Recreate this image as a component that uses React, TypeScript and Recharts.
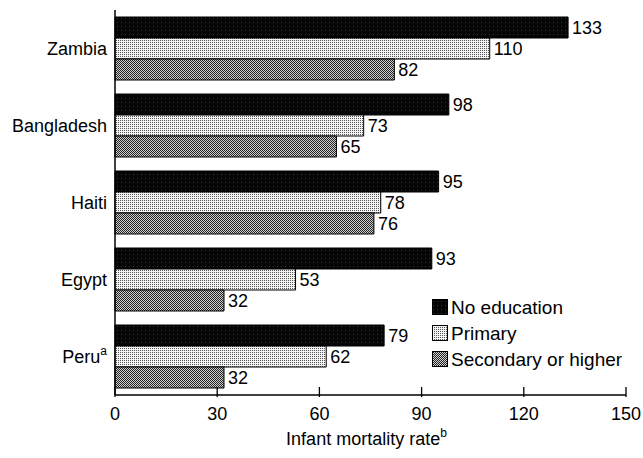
import React from "react";
import { Bar, BarChart, LabelList, XAxis, YAxis } from "recharts";

const countries = ["Zambia", "Bangladesh", "Haiti", "Egypt", "Peru"];
const noEducation = [133, 98, 95, 93, 79];
const primary = [110, 73, 78, 53, 62];
const secondary = [82, 65, 76, 32, 32];
const xTicks = [0, 30, 60, 90, 120, 150];

const series = [
  { key: "none", name: "No education", fill: "url(#patNone)" },
  { key: "primary", name: "Primary", fill: "url(#patPrimary)" },
  { key: "secondary", name: "Secondary or higher", fill: "url(#patSecondary)" },
];

const data = countries.map((country, i) => ({
  country,
  none: noEducation[i],
  primary: primary[i],
  secondary: secondary[i],
}));

const FONT = "'Liberation Sans', Arial, sans-serif";
const FS = 18;

function CountryTick({ x, y, payload }: any) {
  const isPeru = payload.value === "Peru";
  return (
    <text x={x} y={y} dy={6} textAnchor="end" fontSize={FS} fontFamily={FONT} fill="#000">
      {payload.value}
      {isPeru && (
        <tspan dy={-8} fontSize={12}>
          a
        </tspan>
      )}
    </text>
  );
}

function ValueTick({ x, y, payload }: any) {
  return (
    <g>
      <line x1={x} x2={x} y1={y} y2={y - 10} stroke="#000" strokeWidth={1.3} />
      <text x={x} y={y + 23} textAnchor="middle" fontSize={FS} fontFamily={FONT} fill="#000">
        {payload.value}
      </text>
    </g>
  );
}

function AxisTitle({ viewBox }: any) {
  const cx = viewBox.x + viewBox.width / 2 - 4;
  return (
    <text x={cx} y={445} textAnchor="middle" fontSize={FS} fontFamily={FONT} fill="#000">
      Infant mortality rate
      <tspan dy={-8} fontSize={12}>
        b
      </tspan>
    </text>
  );
}

function LegendBox() {
  return (
    <div
      style={{
        position: "absolute",
        left: 432,
        top: 294,
        fontFamily: FONT,
        fontSize: 19,
        color: "#000",
        lineHeight: 1,
      }}
    >
      {series.map((s) => (
        <div key={s.key} style={{ display: "flex", alignItems: "center", height: 26 }}>
          <svg width={17} height={16} style={{ marginRight: 2 }}>
            <rect x={0.5} y={0.5} width={15} height={15} fill={s.fill} stroke="#000" />
          </svg>
          <span>{s.name}</span>
        </div>
      ))}
    </div>
  );
}

export default function App() {
  return (
    <div style={{ position: "absolute", left: 0, top: 0, width: 643, height: 458, background: "#fff" }}>
      <BarChart
        width={643}
        height={458}
        data={data}
        layout="vertical"
        margin={{ top: 10, right: 17, left: 0, bottom: 0 }}
        barCategoryGap={7}
        barGap={0}
      >
        <defs>
          <pattern id="patNone" width="4" height="4" patternUnits="userSpaceOnUse">
            <rect width="4" height="4" fill="#050505" />
            <rect x="1" y="2" width="1" height="1" fill="#333" />
          </pattern>
          <pattern id="patPrimary" width="2" height="2" patternUnits="userSpaceOnUse">
            <rect width="2" height="2" fill="#f4f4f4" />
            <rect x="0" y="0" width="1" height="1" fill="#555" />
          </pattern>
          <pattern id="patSecondary" width="2" height="2" patternUnits="userSpaceOnUse">
            <rect width="2" height="2" fill="#d0d0d0" />
            <rect x="0" y="0" width="1" height="1" fill="#222" />
            <rect x="1" y="1" width="1" height="1" fill="#222" />
          </pattern>
        </defs>
        <XAxis
          type="number"
          domain={[0, 150]}
          ticks={xTicks}
          interval={0}
          height={63}
          tickSize={0}
          tickLine={false}
          axisLine={{ stroke: "#000", strokeWidth: 1.5 }}
          tick={<ValueTick />}
          label={<AxisTitle />}
        />
        <YAxis
          type="category"
          dataKey="country"
          width={115}
          tickSize={0}
          tickMargin={8}
          tickLine={false}
          axisLine={{ stroke: "#000", strokeWidth: 1.5 }}
          tick={<CountryTick />}
        />
        {series.map((s) => (
          <Bar
            key={s.key}
            dataKey={s.key}
            name={s.name}
            fill={s.fill}
            stroke="#000"
            strokeWidth={1}
            isAnimationActive={false}
          >
            <LabelList
              dataKey={s.key}
              position="right"
              offset={4}
              fill="#000"
              fontSize={FS}
              fontFamily={FONT}
            />
          </Bar>
        ))}
      </BarChart>
      <LegendBox />
    </div>
  );
}
